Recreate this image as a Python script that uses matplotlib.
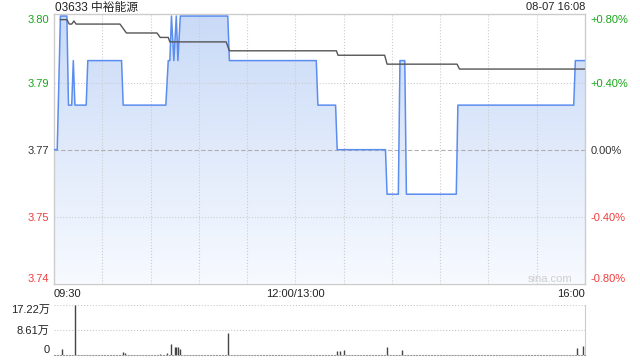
import matplotlib
matplotlib.use('Agg')
import matplotlib.pyplot as plt
import numpy as np
from matplotlib.colors import LinearSegmentedColormap

plt.rcParams['font.family'] = ['Liberation Sans', 'Noto Sans CJK SC', 'DejaVu Sans']

title = '03633 中裕能源'
stamp = '08-07 16:08'
prev_close = 3.77

# trading minutes since 09:30 (lunch break removed, 330 min in total)
price_min = [0, 2, 4, 8, 9, 11, 12, 13, 20, 21, 42, 43, 69.5, 71, 72, 73, 74.5, 76, 77, 78.5,
             108, 109, 163, 164, 175, 176, 206, 207, 214, 215, 218, 219, 250, 251, 323, 324, 330]
price_val = [3.77, 3.77, 3.80, 3.80, 3.78, 3.78, 3.79, 3.78, 3.78, 3.79, 3.79, 3.78, 3.78, 3.79, 3.79, 3.80, 3.79, 3.80, 3.79, 3.80,
             3.80, 3.79, 3.79, 3.78, 3.78, 3.77, 3.77, 3.76, 3.76, 3.79, 3.79, 3.76, 3.76, 3.78, 3.78, 3.79, 3.79]

avg_min = [4, 8, 9.5, 11, 12.4, 13.7, 41, 45, 64, 66, 71, 72, 107, 109, 175.5, 176.5, 205.5, 207, 250.5, 252, 330]
avg_val = [3.7992, 3.7992, 3.7982, 3.7982, 3.7989, 3.7982, 3.7982, 3.7962, 3.7962, 3.7952, 3.7952,
           3.7942, 3.7942, 3.7922, 3.7922, 3.7912, 3.7912, 3.7892, 3.7892, 3.7881, 3.7881]

# volume, in 万股
vol_min = [5, 13, 43, 44, 66, 70, 73, 75, 76, 77, 78, 108, 176, 178, 180, 207, 216, 325, 329]
vol_val = [2.1, 17.22, 0.9, 0.6, 0.5, 0.6, 3.8, 2.6, 2.9, 2.9, 2.1, 7.7, 1.5, 1.5, 1.7, 2.6, 1.7, 2.3, 3.0]

pct_ticks = [-0.8, -0.4, 0.0, 0.4, 0.8]
price_labels = ['3.74', '3.75', '3.77', '3.79', '3.80']
pct_labels = ['-0.80%', '-0.40%', '0.00%', '+0.40%', '+0.80%']
tick_colors = ['#f03c3c', '#f03c3c', '#333333', '#1aa51a', '#1aa51a']
time_ticks = [0, 150, 330]
time_labels = ['09:30', '12:00/13:00', '16:00']
vol_ticks = [0, 8.61, 17.22]
vol_labels = ['0', '8.61万', '17.22万']

ylo, yhi = -0.797, 0.808

fig = plt.figure(figsize=(6.4, 3.6), dpi=100)
ax = fig.add_axes([54 / 640, 1 - 284 / 360, 531 / 640, 270 / 360])
axv = fig.add_axes([54 / 640, 1 - 355 / 360, 531 / 640, 50 / 360])

# price in percent of previous close
p_pct = (np.array(price_val) / prev_close - 1) * 100
a_pct = (np.array(avg_val) / prev_close - 1) * 100

# gradient fill under the price line
grad = np.linspace(1, 0, 256).reshape(-1, 1)
cmap = LinearSegmentedColormap.from_list('fill', ['#f7faff', '#c9daf7'])
im = ax.imshow(grad, aspect='auto', cmap=cmap, extent=[0, 330, ylo, yhi], origin='upper', zorder=1)
poly = ax.fill_between(price_min, p_pct, ylo, color='none', linewidth=0)
im.set_clip_path(poly.get_paths()[0], transform=ax.transData)

# grid
for m in range(30, 330, 30):
    ax.axvline(m, color='#cccccc', lw=0.8, ls=':', zorder=2)
for p in [-0.4, 0.4]:
    ax.axhline(p, color='#cccccc', lw=0.8, ls=':', zorder=2)
ax.axhline(0, color='#b0b0b0', lw=0.8, ls=(0, (4, 2)), zorder=2)

ax.plot(price_min, p_pct, color='#5b8def', lw=1.1, zorder=4)
ax.plot(avg_min, a_pct, color='#555555', lw=1.0, zorder=5)

ax.set_xlim(0, 330)
ax.set_ylim(ylo, yhi)
ax.set_yticks(pct_ticks)
ax.set_yticklabels(price_labels)
ax.set_xticks(time_ticks)
ax.set_xticklabels(time_labels)
ax.tick_params(axis='y', length=0, pad=3.5, labelsize=8)
ax.tick_params(axis='x', length=0, pad=3.5, labelsize=8, labelcolor='#222222')
for lab, c in zip(ax.get_yticklabels(), tick_colors):
    lab.set_color(c)
ylabs = ax.get_yticklabels()
ylabs[0].set_va('bottom')
ylabs[-1].set_va('top')
xlabs = ax.get_xticklabels()
xlabs[0].set_ha('left')
xlabs[-1].set_ha('right')
for s in ax.spines.values():
    s.set_color('#cccccc')
    s.set_linewidth(1)

axr = ax.twinx()
axr.set_ylim(ylo, yhi)
axr.set_yticks(pct_ticks)
axr.set_yticklabels(pct_labels)
axr.tick_params(axis='y', length=0, pad=4, labelsize=8)
for lab, c in zip(axr.get_yticklabels(), tick_colors):
    lab.set_color(c)
rlabs = axr.get_yticklabels()
rlabs[0].set_va('bottom')
rlabs[-1].set_va('top')
for s in axr.spines.values():
    s.set_visible(False)

ax.text(0.977, 0.02, 'sina.com', transform=ax.transAxes, ha='right', va='center',
        color='#cdcdcd', fontsize=8, zorder=6)

# volume panel
axv.vlines(vol_min, 0, vol_val, color='#444444', lw=1)
axv.set_xlim(0, 330)
axv.set_ylim(0, 17.22)
axv.set_yticks(vol_ticks)
axv.set_yticklabels(vol_labels)
axv.set_xticks([])
axv.tick_params(axis='y', length=0, pad=3, labelsize=8, labelcolor='#222222')
vlabs = axv.get_yticklabels()
vlabs[0].set_va('bottom')
vlabs[-1].set_va('top')
for v in vol_ticks[1:]:
    axv.axhline(v, color='#c8c8c8', lw=0.8, ls=':', zorder=0)
axv.spines['top'].set_visible(False)
axv.spines['left'].set_visible(False)
axv.spines['right'].set_color('#cccccc')
axv.spines['bottom'].set_color('#999999')
axv.spines['bottom'].set_linestyle(':')

fig.text(55 / 640, 1 - 7.5 / 360, title, ha='left', va='center', fontsize=8.5, color='#222222')
fig.text(585 / 640, 1 - 7.5 / 360, stamp, ha='right', va='center', fontsize=8, color='#222222')

fig.savefig('out.png', dpi=100)
